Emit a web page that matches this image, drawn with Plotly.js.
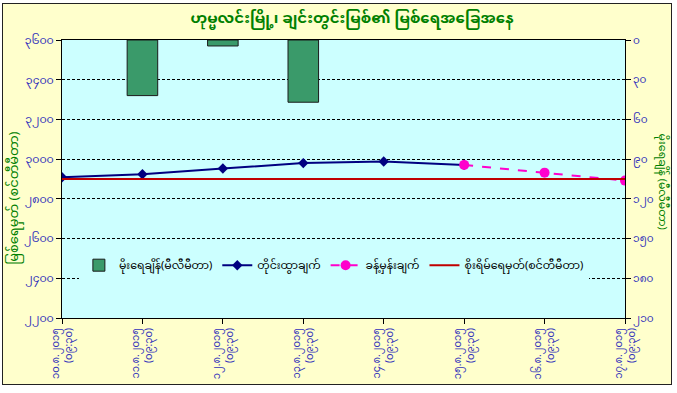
<!DOCTYPE html>
<html>
<head>
<meta charset="utf-8">
<script src="https://cdn.plot.ly/plotly-3.0.1.min.js"></script>
<style>
  html, body { margin:0; padding:0; background:#ffffff; }
  #frame { position:absolute; left:2px; top:3px; width:668px; height:380px; background:#FFFFCC; border:1px solid #222; }
  #chart { position:absolute; left:0; top:0; width:677px; height:393px; }
</style>
</head>
<body>
<div id="frame"></div>
<div id="chart"></div>
<script>
// ---- data ----
const categories = ["၁၀.၈.၂၀၁၅<br>(၀၉:၃၀)", "၁၁.၈.၂၀၁၅<br>(၀၉:၃၀)", "၁၂.၈.၂၀၁၅<br>(၀၉:၃၀)", "၁၃.၈.၂၀၁၅<br>(၀၉:၃၀)",
                    "၁၄.၈.၂၀၁၅<br>(၀၉:၃၀)", "၁၅.၈.၂၀၁၅<br>(၀၉:၃၀)", "၁၆.၈.၂၀၁၅<br>(၀၉:၃၀)", "၁၇.၈.၂၀၁၅<br>(၀၉:၃၀)"];
const catIndex = [0, 1, 2, 3, 4, 5, 6, 7];
const rainfall = [null, 42, 4.5, 47, null, null, null, null];      // mm (no bar = no rain)
const observedIdx = [0, 1, 2, 3, 4, 5];
const observed = [2909, 2924, 2953, 2980, 2988, 2971];             // cm
const forecastIdx = [5, 6, 7];
const forecast = [2971, 2932, 2892];                               // cm
const dangerLevel = [2900, 2900, 2900, 2900, 2900, 2900, 2900, 2900];
const leftTickVals = [2200, 2400, 2600, 2800, 3000, 3200, 3400, 3600];
const leftTickText = ["၂၂၀၀", "၂၄၀၀", "၂၆၀၀", "၂၈၀၀", "၃၀၀၀", "၃၂၀၀", "၃၄၀၀", "၃၆၀၀"];
const rightTickVals = [0, 30, 60, 90, 120, 150, 180, 210];
const rightTickText = ["၀", "၃၀", "၆၀", "၉၀", "၁၂၀", "၁၅၀", "၁၈၀", "၂၁၀"];
const names = ["မိုးရေချိန်(မီလီမီတာ)", "တိုင်းထွာချက်", "ခန့်မှန်းချက်", "စိုးရိမ်ရေမှတ်(စင်တီမီတာ)"];
const titleText = "ဟုမ္မလင်းမြို့၊ ချင်းတွင်းမြစ်၏ မြစ်ရေအခြေအနေ";
const leftTitle = "မြစ်ရေမှတ် (စင်တီမီတာ)";
const rightTitle = "မိုးရေချိန် (မီလီမီတာ)";

const FONT = "'Noto Sans Myanmar', Padauk, 'Myanmar Text', 'Noto Sans', sans-serif";
const BLUE = "#3333BB";
const GREEN = "#008000";

const traces = [
  { type:'bar', x:catIndex, y:rainfall, yaxis:'y2', name:names[0], width:0.38,
    marker:{color:'#3A9A6A', line:{color:'#1a1a1a', width:1}} },
  { type:'scatter', mode:'lines+markers', x:observedIdx, y:observed, name:names[1],
    line:{color:'#000080', width:2}, marker:{symbol:'diamond', size:8, color:'#000080'} },
  { type:'scatter', mode:'lines+markers', x:forecastIdx, y:forecast, name:names[2],
    line:{color:'#FF00CC', width:2, dash:'dash'}, marker:{symbol:'circle', size:10, color:'#FF00CC'} },
  { type:'scatter', mode:'lines', x:catIndex, y:dangerLevel, name:names[3],
    line:{color:'#C00000', width:2} }
];

const layout = {
  width:677, height:393,
  paper_bgcolor:'rgba(0,0,0,0)', plot_bgcolor:'#CCFFFF',
  margin:{l:62, r:52, t:40, b:75},
  font:{family:FONT, color:BLUE, size:11},
  title:{text:titleText, font:{family:FONT, size:15, color:GREEN, weight:'bold'}, x:0.52, xanchor:'center', y:0.955, yref:'container', yanchor:'middle'},
  showlegend:true,
  legend:{orientation:'h', x:0.03, y:0.19, xanchor:'left', yanchor:'middle', bgcolor:'#CCFFFF', borderwidth:0,
          font:{family:FONT, size:11, color:'#000000'}, traceorder:'normal', itemwidth:30},
  xaxis:{range:[0,7], tickmode:'array', tickvals:catIndex, ticktext:categories, tickangle:-90,
         showgrid:false, zeroline:false, showline:true, linecolor:'#000', linewidth:1, mirror:true,
         ticks:'outside', ticklen:5, tickcolor:'#000', tickfont:{family:FONT, size:10, color:BLUE}},
  yaxis:{range:[2200,3600], tickmode:'array', tickvals:leftTickVals, ticktext:leftTickText,
         showgrid:true, gridcolor:'#000', griddash:'3px,2px', gridwidth:1, zeroline:false,
         showline:true, linecolor:'#000', linewidth:1, ticks:'outside', ticklen:5, tickcolor:'#000',
         tickfont:{family:FONT, size:11, color:BLUE}},
  yaxis2:{range:[210,0], overlaying:'y', side:'right', tickmode:'array', tickvals:rightTickVals, ticktext:rightTickText,
          showgrid:false, zeroline:false, showline:true, linecolor:'#000', linewidth:1,
          ticks:'outside', ticklen:5, tickcolor:'#000', tickfont:{family:FONT, size:10.5, color:BLUE}},
  annotations:[
    {text:leftTitle, textangle:-90, xref:'paper', yref:'paper', x:-0.083, y:0.43, xanchor:'center', yanchor:'middle',
     showarrow:false, font:{family:FONT, size:13, color:GREEN}},
    {text:rightTitle, textangle:90, xref:'paper', yref:'paper', x:1.066, y:0.49, xanchor:'center', yanchor:'middle',
     showarrow:false, font:{family:FONT, size:11, color:GREEN}}
  ]
};

Plotly.newPlot('chart', traces, layout, {displayModeBar:false, staticPlot:true});
</script>
</body>
</html>
